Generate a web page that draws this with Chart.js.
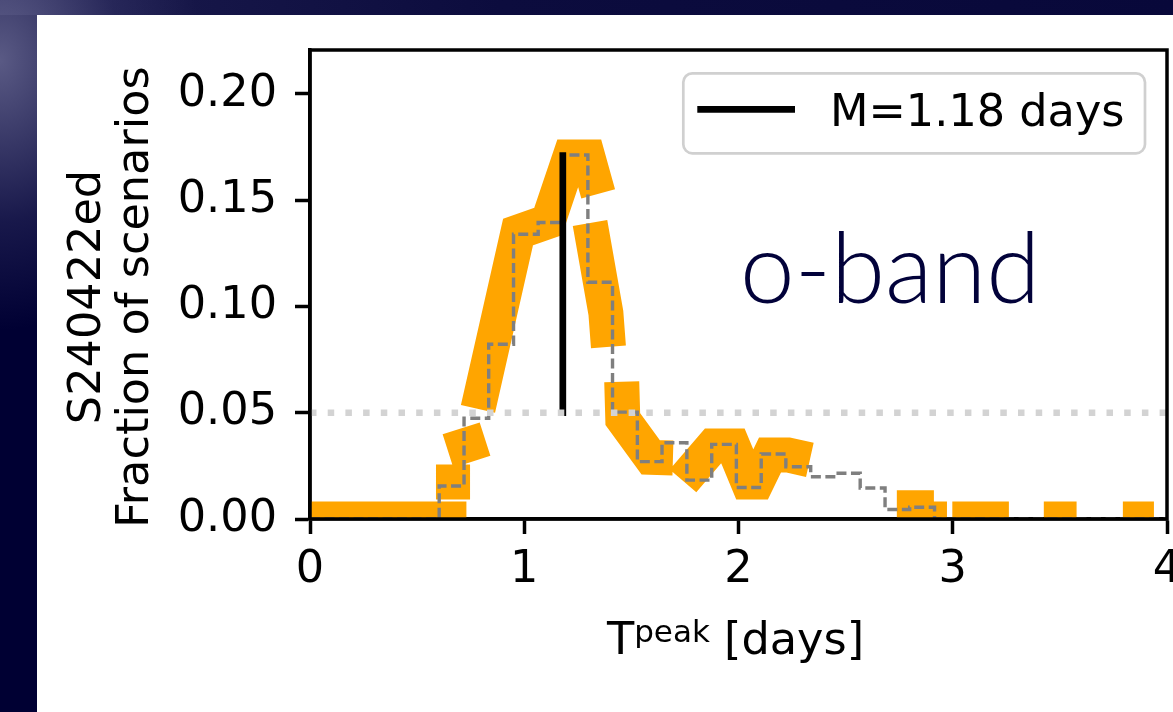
<!DOCTYPE html>
<html>
<head>
<meta charset="utf-8">
<script src="https://cdn.jsdelivr.net/npm/chart.js@4.4.1/dist/chart.umd.min.js"></script>
<style>
  html, body { margin: 0; padding: 0; }
  body {
    width: 1173px; height: 712px; overflow: hidden; position: relative;
    background-color: #000033;
    background-image:
      radial-gradient(ellipse 200px 270px at 0px 60px, rgba(120,120,160,0.75), rgba(60,60,110,0.4) 60%, rgba(0,0,51,0) 100%),
      linear-gradient(to right, #1c1c4e 0px, #0c0c3e 500px, #08083a 1173px);
    background-size: 100% 100%, 100% 15px;
    background-repeat: no-repeat;
  }
  #panel { position: absolute; left: 37px; top: 15px; width: 1136px; height: 697px; background: #fff; }
  canvas { display: block; }
</style>
</head>
<body>
<div id="panel"><canvas id="chart" width="1136" height="697"></canvas></div>
<script>
// left bin edges of the peak-time histogram (days) and the fraction per bin
const binEdges = [0.603, 0.719, 0.834, 0.950, 1.065, 1.181, 1.297, 1.412, 1.528, 1.643,
                  1.759, 1.875, 1.990, 2.106, 2.221, 2.337, 2.453, 2.568, 2.684, 2.799, 2.915];
const binFractions = [0.0155, 0.0474, 0.0822, 0.134, 0.1395, 0.1713, 0.1114, 0.0503, 0.027, 0.0359,
                      0.0183, 0.0351, 0.0148, 0.0306, 0.0246, 0.0199, 0.0215, 0.0146, 0.0045, 0.0055];

// thick orange trace; a null fraction breaks the line
const traceDays = [0, 0.73, 0.73,
                   0.588, 0.747, 0.747,
                   0.644, 0.817, 0.817,
                   0.784, 0.971, 1.111, 1.213, 1.297, 1.345, 1.345,
                   1.307, 1.381, 1.393, 1.393,
                   1.455, 1.46, 1.59, 1.694, 1.694,
                   1.741, 1.881, 1.974, 2.044, 2.086, 2.147, 2.231, 2.333, 2.333,
                   2.739, 2.912, 2.912,
                   2.912, 2.973, 2.973,
                   2.998, 3.262, 3.262,
                   3.425, 3.578, 3.578,
                   3.794, 3.939];
const traceFrac = [0, 0, null,
                   0.0174, 0.0174, null,
                   0.032, 0.0376, null,
                   0.0518, 0.135, 0.140, 0.1704, 0.1704, 0.153, null,
                   0.1393, 0.097, 0.081, null,
                   0.0646, 0.047, 0.029, 0.0287, null,
                   0.0179, 0.0344, 0.0344, 0.0174, 0.0174, 0.0301, 0.0301, 0.0278, null,
                   0.0053, 0.0053, null,
                   0, 0, null,
                   0, 0, null,
                   0, 0, null,
                   0, 0];

const medianDays = 1.18;
const medianTop = 0.171;
const threshold = 0.05;
const bandName = 'o-band';
const eventName = 'S240422ed';

const xTicks = [0, 1, 2, 3, 4];
const yTicks = [0, 0.05, 0.10, 0.15, 0.20];

const FONT = 'DejaVu Sans';
const FS = 44.6;

const histPoints = [{ x: 0, y: 0 }];
binFractions.forEach((f, i) => histPoints.push({ x: binEdges[i], y: f }));
histPoints.push({ x: binEdges[binEdges.length - 1], y: 0 });
histPoints.push({ x: 4, y: 0 });

const tracePoints = traceDays.map((d, i) => ({ x: d, y: traceFrac[i] }));

// frame, axis titles, band label and legend box
const decorations = {
    id: 'decorations',
    afterDraw(chart) {
        const { ctx, chartArea: a } = chart;
        ctx.save();

        ctx.strokeStyle = '#000';
        ctx.lineWidth = 3.5;
        ctx.strokeRect(a.left, a.top, a.right - a.left, a.bottom - a.top);

        ctx.fillStyle = '#000';
        ctx.font = FS + 'px "' + FONT + '"';

        // y title, two lines rotated
        ctx.save();
        ctx.translate(62.5, 282);
        ctx.rotate(-Math.PI / 2);
        ctx.textAlign = 'center';
        ctx.textBaseline = 'alphabetic';
        ctx.fillText(eventName, 0, 0);
        ctx.fillText('Fraction of scenarios', 0, 48.5);
        ctx.restore();

        // x title with superscript
        const small = 31;
        ctx.textBaseline = 'alphabetic';
        ctx.textAlign = 'left';
        ctx.font = FS + 'px "' + FONT + '"';
        const wT = ctx.measureText('T').width;
        const wRest = ctx.measureText(' [days]').width;
        ctx.font = small + 'px "' + FONT + '"';
        const wSup = ctx.measureText('peak').width;
        let x = (a.left + a.right) / 2 - (wT + wSup + wRest) / 2 - 3;
        const base = 639;
        ctx.font = FS + 'px "' + FONT + '"';
        ctx.fillText('T', x, base);
        x += wT;
        ctx.font = small + 'px "' + FONT + '"';
        ctx.fillText('peak', x, base - 12);
        x += wSup;
        ctx.font = FS + 'px "' + FONT + '"';
        ctx.fillText(' [days]', x, base);

        // band label
        ctx.fillStyle = '#02023a';
        ctx.font = '300 98px Lato';
        ctx.fillText(bandName, 703, 288.3);

        // legend
        const lx = 646.3, ly = 58.3, lw = 461.7, lh = 80, r = 9;
        ctx.beginPath();
        ctx.moveTo(lx + r, ly);
        ctx.arcTo(lx + lw, ly, lx + lw, ly + lh, r);
        ctx.arcTo(lx + lw, ly + lh, lx, ly + lh, r);
        ctx.arcTo(lx, ly + lh, lx, ly, r);
        ctx.arcTo(lx, ly, lx + lw, ly, r);
        ctx.closePath();
        ctx.fillStyle = 'rgba(255,255,255,0.8)';
        ctx.fill();
        ctx.strokeStyle = '#d0d0d0';
        ctx.lineWidth = 2.7;
        ctx.stroke();

        const medSet = chart.data.datasets[1];
        ctx.strokeStyle = medSet.borderColor;
        ctx.lineWidth = medSet.borderWidth;
        ctx.lineCap = 'butt';
        ctx.beginPath();
        ctx.moveTo(660.3, 94.3);
        ctx.lineTo(758, 94.3);
        ctx.stroke();
        ctx.fillStyle = '#000';
        ctx.font = FS + 'px "' + FONT + '"';
        ctx.fillText(medSet.label, 793, 110.7);

        ctx.restore();
    }
};

new Chart(document.getElementById('chart'), {
    type: 'line',
    data: {
        datasets: [
            {
                label: 'threshold',
                data: [{ x: 0, y: threshold }, { x: 4, y: threshold }],
                borderColor: '#d3d3d3',
                borderWidth: 6.5,
                borderDash: [6.5, 11.2],
                borderCapStyle: 'butt'
            },
            {
                label: 'M=' + medianDays.toFixed(2) + ' days',
                data: [{ x: medianDays, y: threshold }, { x: medianDays, y: medianTop }],
                borderColor: '#000000',
                borderWidth: 6.7,
                borderCapStyle: 'square'
            },
            {
                label: 'histogram',
                data: histPoints,
                borderColor: '#7f7f7f',
                borderWidth: 3.4,
                borderDash: [10, 4.5],
                borderCapStyle: 'butt',
                stepped: true
            },
            {
                label: 'trace',
                data: tracePoints,
                borderColor: '#ffa500',
                borderWidth: 35,
                borderJoinStyle: 'miter',
                borderCapStyle: 'butt',
                spanGaps: false
            }
        ]
    },
    options: {
        responsive: false,
        animation: false,
        devicePixelRatio: 1,
        elements: { point: { radius: 0 }, line: { tension: 0 } },
        datasets: { line: { clip: 0 } },
        layout: { padding: { top: 35, right: 6, bottom: 0, left: 0 } },
        plugins: { legend: { display: false }, tooltip: { enabled: false } },
        scales: {
            x: {
                type: 'linear',
                min: 0,
                max: 4,
                afterBuildTicks: s => { s.ticks = xTicks.map(v => ({ value: v })); },
                afterFit: s => { s.height = 193; s.paddingLeft = 0; s.paddingRight = 0; },
                ticks: {
                    font: { family: FONT, size: FS },
                    color: '#000',
                    padding: 10,
                    maxRotation: 0,
                    callback: v => String(v)
                },
                grid: { drawOnChartArea: false, tickLength: 15, tickWidth: 3.5, tickColor: '#000' },
                border: { color: '#000', width: 3.5 }
            },
            y: {
                type: 'linear',
                min: 0,
                max: 0.2207,
                afterBuildTicks: s => { s.ticks = yTicks.map(v => ({ value: v })); },
                afterFit: s => { s.width = 273; s.paddingTop = 0; s.paddingBottom = 0; },
                ticks: {
                    font: { family: FONT, size: FS },
                    color: '#000',
                    padding: 18,
                    callback: v => v.toFixed(2)
                },
                grid: { drawOnChartArea: false, tickLength: 15, tickWidth: 3.5, tickColor: '#000' },
                border: { color: '#000', width: 3.5 }
            }
        }
    },
    plugins: [decorations]
});
</script>
</body>
</html>
